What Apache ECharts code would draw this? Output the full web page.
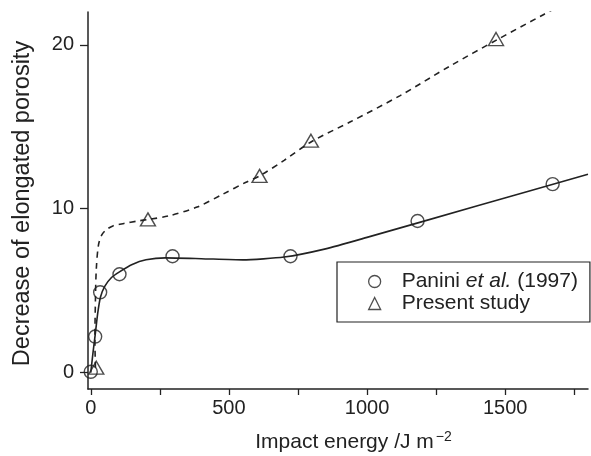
<!DOCTYPE html>
<html>
<head>
<meta charset="utf-8">
<script src="https://cdn.jsdelivr.net/npm/echarts@6/dist/echarts.min.js"></script>
<style>html,body{margin:0;padding:0;background:#fff;}#c{width:591px;height:456px;}</style>
</head>
<body>
<div id="c"></div>
<script>
// Data
var paniniX = [0, 16, 34, 104, 296, 723, 1183, 1672];
var paniniY = [0.05, 2.2, 4.9, 6.0, 7.1, 7.1, 9.25, 11.5];
var presentX = [20, 207, 611, 797, 1467];
var presentY = [0.3, 9.35, 12.0, 14.15, 20.35];
// fitted curves
var solidFitX = [0, 8, 16, 25, 35, 50, 75, 104, 150, 200, 270, 400, 550, 700, 850, 1000, 1400, 1800];
var solidFitY = [0, 1.2, 2.3, 3.6, 4.6, 5.25, 5.8, 6.15, 6.6, 6.88, 7.0, 6.95, 6.88, 7.05, 7.55, 8.25, 10.175, 12.1];
var dashFitX = [17, 15, 17, 20, 28, 40, 55, 80, 120, 170, 210, 280, 385, 480, 560, 611, 700, 800, 940, 1120, 1300, 1470, 1640, 1700];
var dashFitY = [0.3, 2.0, 4.5, 6.3, 7.8, 8.4, 8.7, 8.95, 9.1, 9.25, 9.35, 9.55, 10.1, 10.9, 11.6, 12.0, 12.95, 14.1, 15.3, 16.9, 18.7, 20.3, 21.85, 22.4];
var xTickValues = [0, 250, 500, 750, 1000, 1250, 1500, 1750];
var xLabelValues = [0, 500, 1000, 1500];
var yTickValues = [0, 10, 20];
var seriesNames = ['Panini et al. (1997)', 'Present study'];

function zip(a, b) { return a.map(function (v, i) { return [v, b[i]]; }); }
var ink = '#222';
var font = 'Liberation Sans, Arial, Helvetica, sans-serif';

var chart = echarts.init(document.getElementById('c'));
chart.setOption({
  animation: false,
  backgroundColor: '#fff',
  grid: { left: 88, right: 3, top: 12, bottom: 67, containLabel: false, outerBoundsMode: 'none' },
  xAxis: {
    type: 'value', min: -10, max: 1800,
    splitLine: { show: false },
    axisLine: { show: true, onZero: false, lineStyle: { color: ink, width: 1.5 } },
    axisTick: { show: true, inside: false, length: 6, customValues: xTickValues, lineStyle: { color: ink, width: 1.3 } },
    axisLabel: { customValues: xLabelValues, margin: 9, color: ink, fontSize: 20, fontFamily: font,
      formatter: function (v) { return String(v); } },
    name: 'Impact energy /J m{sup|\u22122}',
    nameLocation: 'middle', nameGap: 41,
    nameTextStyle: { color: ink, fontSize: 21, fontFamily: font, padding: [0, 0, 0, 31],
      rich: { sup: { fontSize: 14, fontFamily: font, color: ink, padding: [0, 0, 11, 2] } } }
  },
  yAxis: {
    type: 'value', min: -1, max: 22,
    splitLine: { show: false },
    axisLine: { show: true, onZero: false, lineStyle: { color: ink, width: 1.5 } },
    axisTick: { show: true, inside: false, length: 8, customValues: yTickValues, lineStyle: { color: ink, width: 1.3 } },
    axisLabel: { customValues: yTickValues, margin: 14, color: ink, fontSize: 20, fontFamily: font,
      formatter: function (v) { return String(v); } },
    name: 'Decrease of elongated porosity',
    nameLocation: 'middle', nameGap: 53,
    nameTextStyle: { color: ink, fontSize: 23.5, fontFamily: font, padding: [0, 6, 0, 0] }
  },
  legend: {
    orient: 'vertical', left: 337, top: 262,
    padding: [9, 12, 8, 31], itemGap: 1,
    itemWidth: 12, itemHeight: 12,
    borderColor: ink, borderWidth: 1.2, borderRadius: 0,
    data: [
      { name: seriesNames[0], icon: 'circle', itemStyle: { color: 'transparent', borderColor: ink, borderWidth: 1.3 } },
      { name: seriesNames[1], icon: 'triangle', itemStyle: { color: 'transparent', borderColor: ink, borderWidth: 1.3 } }
    ],
    formatter: function (n) {
      if (n === seriesNames[0]) return '{g|}{n|Panini }{i|et al.}{n| (1997)}';
      return '{g|}{n|' + n + '}';
    },
    textStyle: { color: ink, fontSize: 21, fontFamily: font,
      rich: {
        g: { width: 16 },
        n: { fontSize: 21, fontFamily: font, color: ink },
        i: { fontSize: 21, fontFamily: font, color: ink, fontStyle: 'italic' }
      } }
  },
  series: [
    { type: 'line', name: 'fit1', data: zip(solidFitX, solidFitY), showSymbol: false, smooth: 0.2,
      lineStyle: { color: ink, width: 1.6 }, silent: true, z: 2 },
    { type: 'line', name: 'fit2', data: zip(dashFitX, dashFitY), showSymbol: false, smooth: 0.3,
      lineStyle: { color: ink, width: 1.6, type: [6, 5] }, silent: true, z: 2 },
    { type: 'scatter', name: seriesNames[0], data: zip(paniniX, paniniY), symbol: 'circle', symbolSize: 13,
      itemStyle: { color: 'transparent', borderColor: ink, borderWidth: 1.4 }, z: 3 },
    { type: 'scatter', name: seriesNames[1], data: zip(presentX, presentY), symbol: 'triangle', symbolSize: [15, 13],
      itemStyle: { color: 'transparent', borderColor: ink, borderWidth: 1.4 }, z: 3 }
  ]
});
</script>
</body>
</html>
